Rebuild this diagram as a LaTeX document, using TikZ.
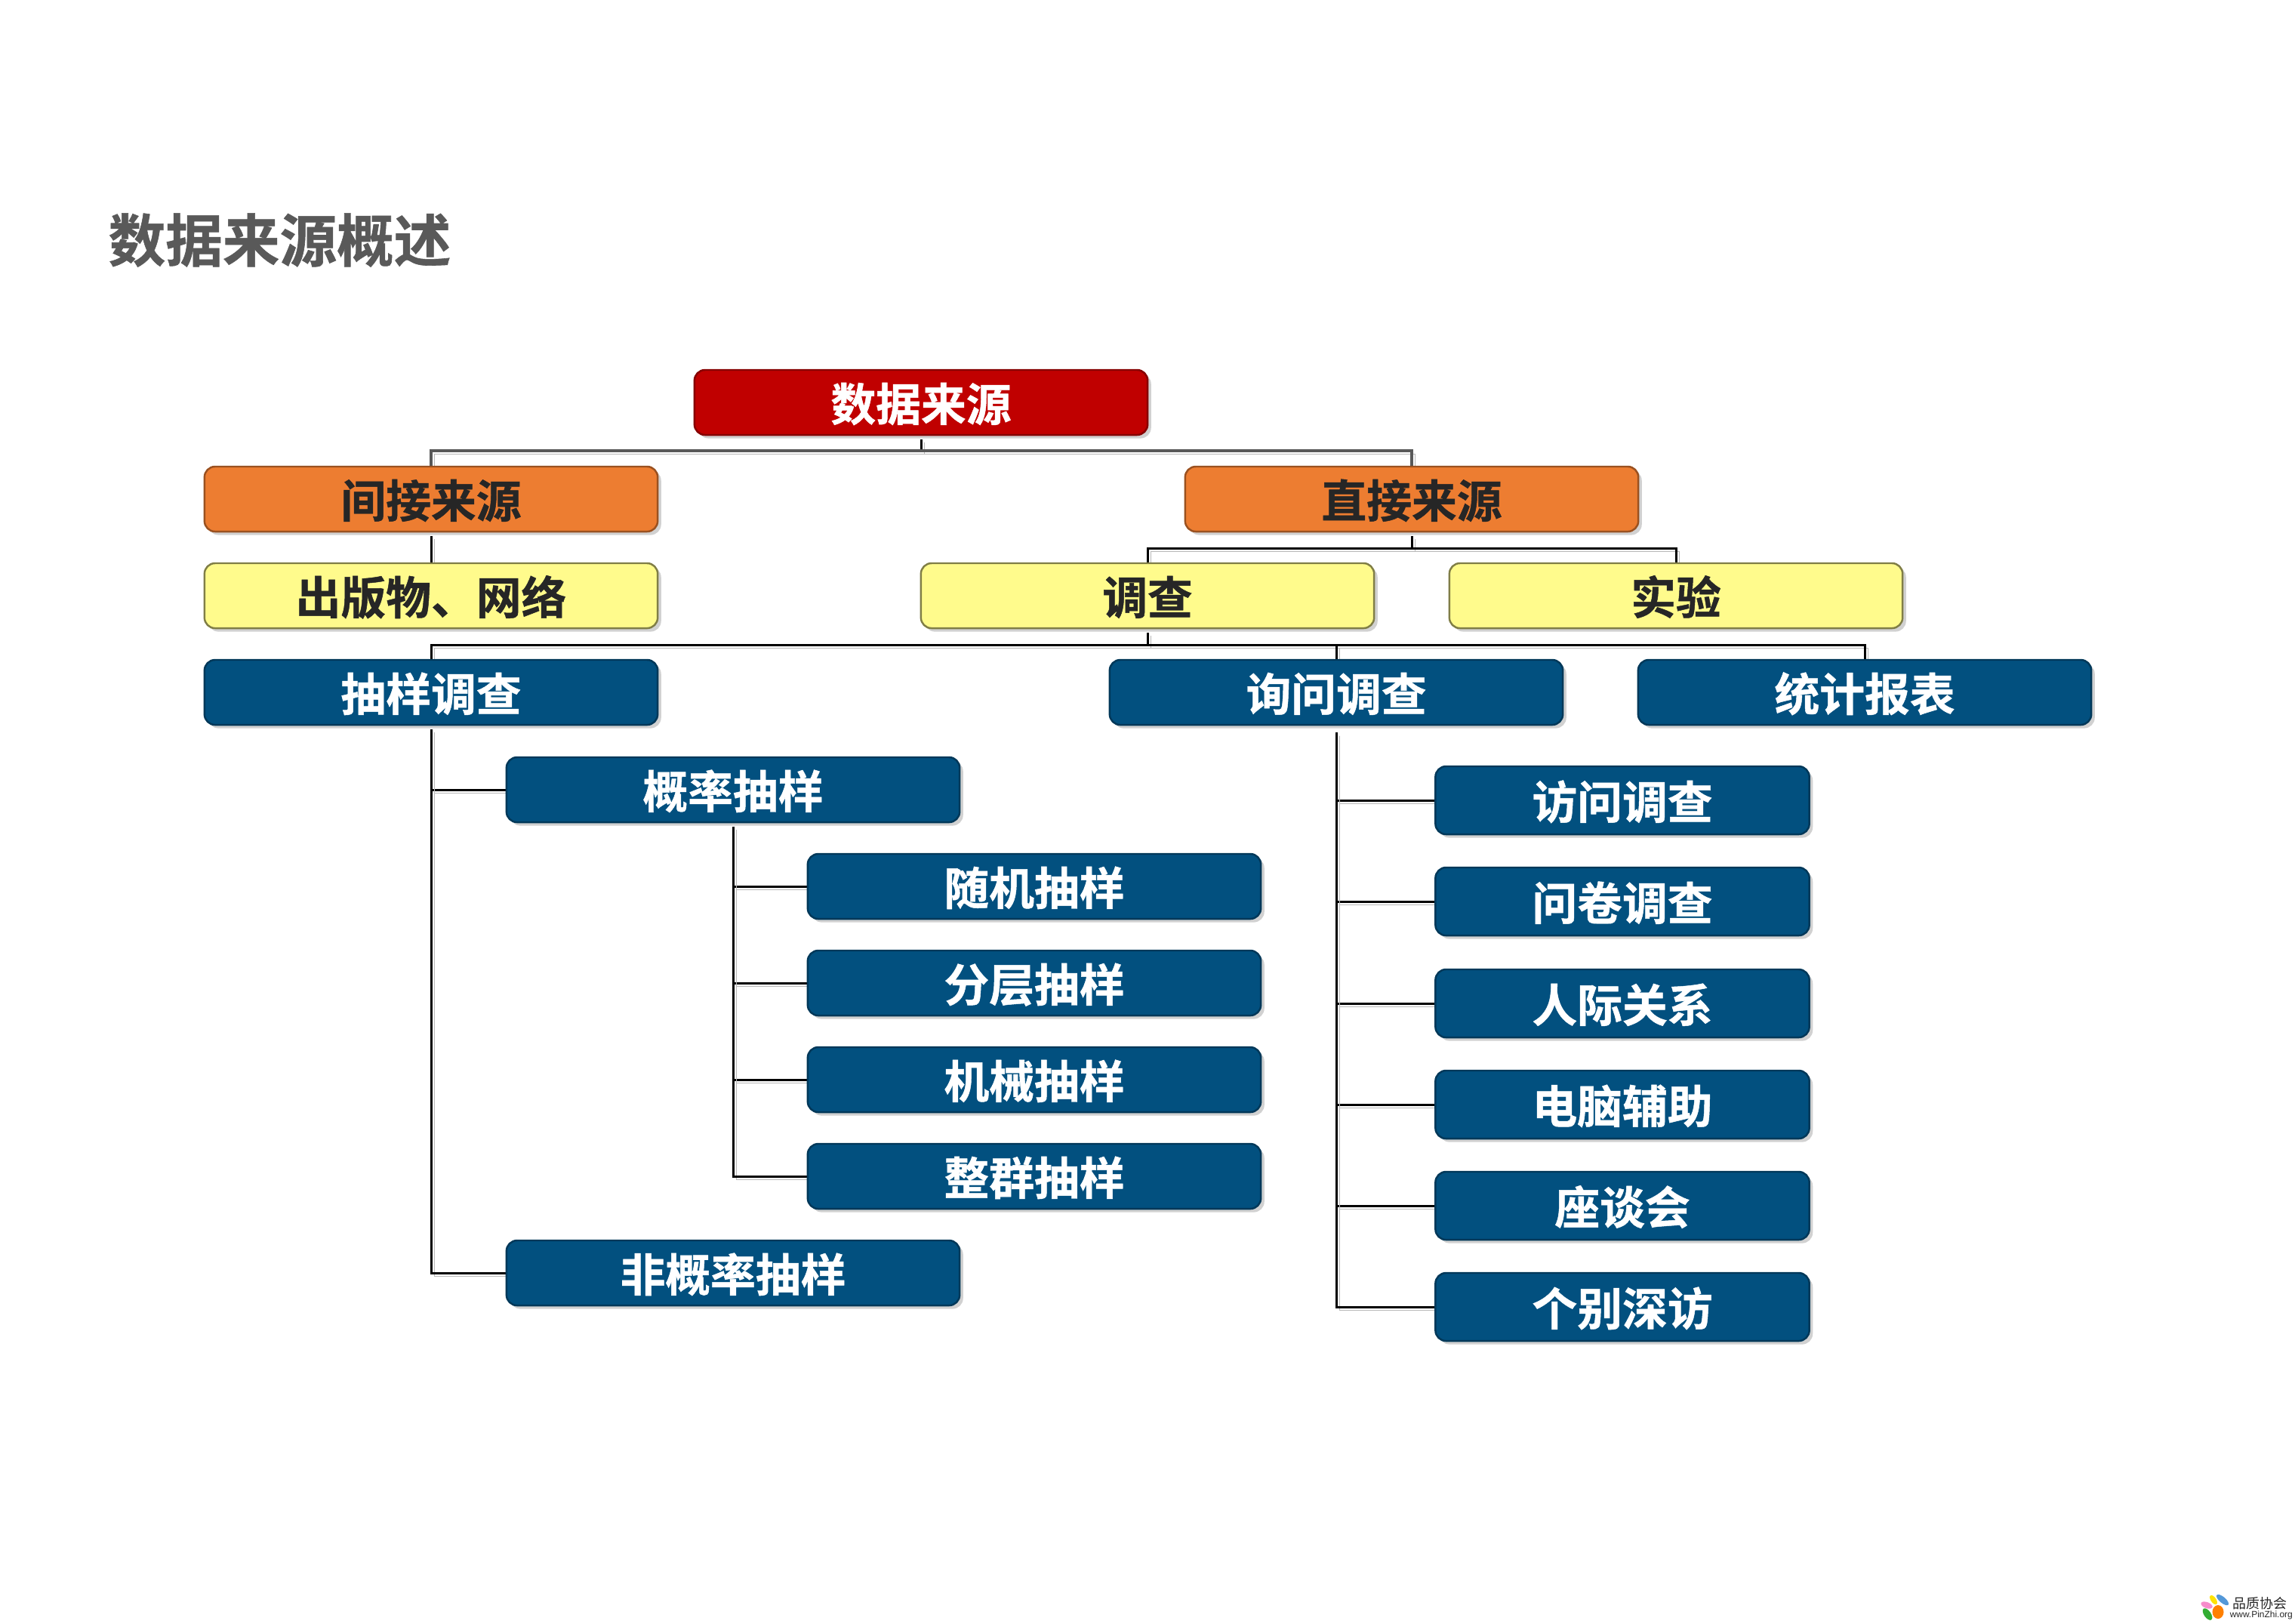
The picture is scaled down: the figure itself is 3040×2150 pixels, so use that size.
\documentclass[tikz,border=0pt]{standalone}
\usepackage{fontspec}
\setmainfont{Noto Sans CJK SC}[BoldFont=* Bold,BoldFeatures={FakeBold=0.8}]
\newfontfamily\latinfont{Liberation Sans}
\usetikzlibrary{shadows,backgrounds}
\definecolor{rootred}{HTML}{C00000}
\definecolor{kindorange}{HTML}{ED7D31}
\definecolor{wayyellow}{HTML}{FFFB8C}
\definecolor{itemblue}{HTML}{02507F}
\definecolor{titlegray}{HTML}{595959}
\tikzset{
  box/.style={rectangle,rounded corners=4pt,line width=0.7pt,minimum width=6.0cm,minimum height=0.86cm,
    inner sep=0pt,text height=15pt,text depth=1pt,font=\fontsize{17}{20}\selectfont\bfseries,
    drop shadow={shadow xshift=1.3pt,shadow yshift=-1.3pt,fill=black!18,opacity=1}},
  rootbox/.style={box,fill=rootred,draw=rootred!70!black,text=white},
  kindbox/.style={box,fill=kindorange,draw=kindorange!65!black,text=black!85},
  waybox/.style={box,fill=wayyellow,draw=wayyellow!50!black,text=black!85},
  itembox/.style={box,fill=itemblue,draw=itemblue!70!black,text=white},
  sidebox/.style={itembox,minimum width=4.95cm,minimum height=0.9cm},
  conn/.style={line width=0.85pt,draw=black,
    preaction={draw=black!28,transform canvas={xshift=1.3pt,yshift=-1.3pt}}},
  stub/.style={conn,shorten <=1.3pt},
}
\begin{document}
\begin{tikzpicture}[x=0.01cm,y=-0.01cm]
\useasboundingbox (0,0) rectangle (3040,2150);
\node[anchor=west,inner sep=0pt,text=titlegray,font=\fontsize{21.5}{24}\selectfont\bfseries] (title) at (143,318) {数据来源概述};

\node[rootbox] (root) at (1220,533) {数据来源};
\node[kindbox] (indirect) at (571,661) {间接来源};
\node[kindbox] (direct) at (1870,661) {直接来源};
\node[waybox] (publish) at (571,789) {出版物、网络};
\node[waybox] (survey) at (1520,789) {调查};
\node[waybox] (experiment) at (2220,789) {实验};
\node[itembox] (sample) at (571,917) {抽样调查};
\node[itembox] (ask) at (1770,917) {询问调查};
\node[itembox] (report) at (2470,917) {统计报表};
\node[itembox] (prob) at (971,1046) {概率抽样};
\node[itembox] (nonprob) at (971,1686) {非概率抽样};
\node[itembox] (random) at (1370,1174) {随机抽样};
\node[itembox] (layer) at (1370,1302) {分层抽样};
\node[itembox] (system) at (1370,1430) {机械抽样};
\node[itembox] (cluster) at (1370,1558) {整群抽样};
\node[sidebox] (visit) at (2149,1060) {访问调查};
\node[sidebox] (paper) at (2149,1194) {问卷调查};
\node[sidebox] (people) at (2149,1329) {人际关系};
\node[sidebox] (computer) at (2149,1463) {电脑辅助};
\node[sidebox] (meeting) at (2149,1597) {座谈会};
\node[sidebox] (single) at (2149,1731) {个别深访};

\coordinate (busa) at (1220,597);
\coordinate (busb) at (1870,726);
\coordinate (busc) at (1520,854);

\begin{scope}[on background layer]
\draw[stub] (root.south) -- (busa);
\draw[conn,draw=titlegray,line width=1.1pt] (indirect.north) |- (busa) -| (direct.north);
\draw[stub] (indirect.south) -- (publish.north);
\draw[stub] (direct.south) -- (busb);
\draw[conn] (survey.north) |- (busb) -| (experiment.north);
\draw[stub] (survey.south) -- (busc);
\draw[conn] (sample.north) |- (busc) -| (report.north);
\draw[conn] (busc -| ask.north) -- (ask.north);
\draw[stub] (sample.south) |- (prob.west);
\draw[stub] (sample.south) |- (nonprob.west);
\draw[stub] (prob.south) |- (random.west);
\draw[stub] (prob.south) |- (layer.west);
\draw[stub] (prob.south) |- (system.west);
\draw[stub] (prob.south) |- (cluster.west);
\draw[stub,shorten <=2.5pt] (ask.south) |- (visit.west);
\draw[stub,shorten <=2.5pt] (ask.south) |- (paper.west);
\draw[stub,shorten <=2.5pt] (ask.south) |- (people.west);
\draw[stub,shorten <=2.5pt] (ask.south) |- (computer.west);
\draw[stub,shorten <=2.5pt] (ask.south) |- (meeting.west);
\draw[stub,shorten <=2.5pt] (ask.south) |- (single.west);
\end{scope}

\fill[yellow!85!orange,rotate around={35:(2932,2119)}] (2932,2119) ellipse (3.5 and 7);
\fill[cyan!60!blue!70,rotate around={50:(2944,2119)}] (2944,2119) ellipse (4 and 10);
\fill[magenta!45,rotate around={70:(2923,2126)}] (2923,2126) ellipse (4 and 8);
\fill[green!60!black!80,rotate around={35:(2924,2138)}] (2924,2138) ellipse (4.5 and 9);
\fill[orange] (2938,2135) ellipse (7.5 and 9);
\node[inner sep=0pt,anchor=west,text=black!85,font=\fontsize{5.1}{6}\selectfont] (brand) at (2957,2124) {品质协会};
\node[inner sep=0pt,anchor=west,text=black!85,font=\latinfont\fontsize{3.4}{4}\selectfont] (site) at (2953,2139) {www.PinZhi.org};
\end{tikzpicture}
\end{document}
